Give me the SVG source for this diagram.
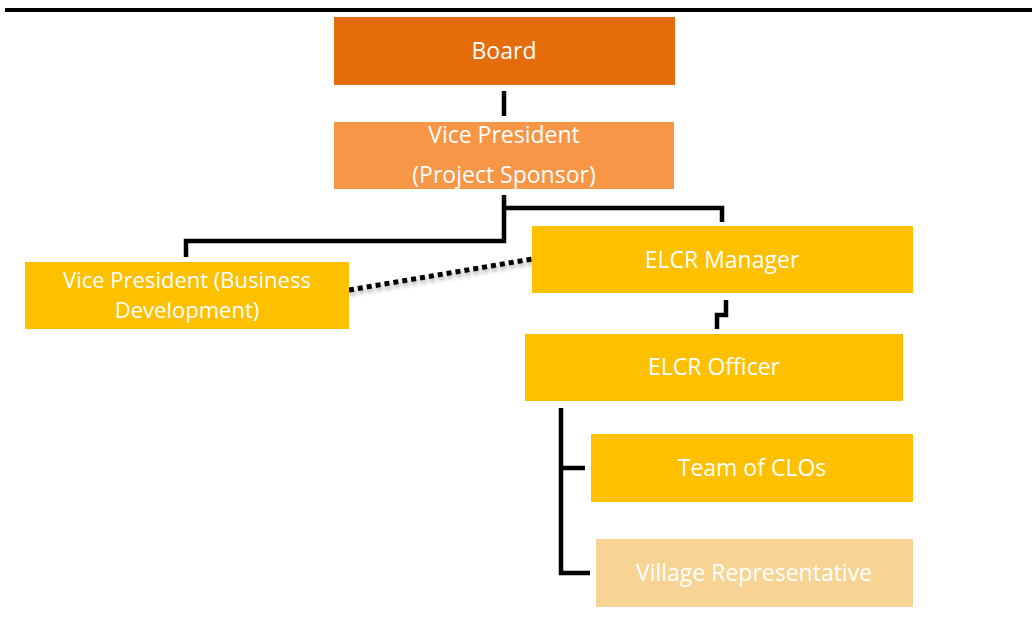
<svg xmlns="http://www.w3.org/2000/svg" width="1032" height="619" viewBox="0 0 1032 619">
  <style>
    .lbl { font-family: "Open Sans", "Noto Sans", sans-serif; font-size: 23px; fill: #ffffff; text-anchor: middle; }
    .lbl.sm { font-size: 22px; }
    .ln { fill: none; stroke: #000; stroke-width: 4.5; stroke-linejoin: miter; }
    .dot { fill: none; stroke: #000; stroke-width: 5; stroke-dasharray: 5 4; }
  </style>
  <defs>
    <filter id="shadow" x="-10%" y="-200%" width="120%" height="500%">
      <feDropShadow dx="1" dy="3" stdDeviation="2" flood-color="#000" flood-opacity="0.35"/>
    </filter>
  </defs>
  <rect width="1032" height="619" fill="#ffffff"/>
  <!-- top rule -->
  <rect x="5" y="8" width="1027" height="4" fill="#000"/>

  <g id="connectors">
    <line class="ln" x1="504" y1="91" x2="504" y2="116"/>
    <polyline class="ln" points="504,195 504,241 186,241 186,257"/>
    <polyline class="ln" points="504,208 722,208 722,222"/>
    <polyline class="ln" points="726,300 726,315 717,315 717,329"/>
    <polyline class="ln" points="561,408 561,573 590,573"/>
    <line class="ln" x1="561" y1="468" x2="585" y2="468"/>
    <line class="dot" x1="349" y1="290" x2="532" y2="259" filter="url(#shadow)"/>
  </g>

  <g id="board">
    <rect x="334" y="17" width="341" height="68" fill="#E46C0A"/>
    <text class="lbl" x="504" y="59">Board</text>
  </g>
  <g id="vp-sponsor">
    <rect x="334" y="122" width="340" height="67" fill="#F79646"/>
    <text class="lbl" x="504" y="143">Vice President</text>
    <text class="lbl" x="504" y="183">(Project Sponsor)</text>
  </g>
  <g id="vp-business">
    <rect x="25" y="262" width="324" height="67" fill="#FFC000"/>
    <text class="lbl sm" x="187" y="288">Vice President (Business</text>
    <text class="lbl sm" x="187" y="318">Development)</text>
  </g>
  <g id="elcr-manager">
    <rect x="532" y="226" width="381" height="67" fill="#FFC000"/>
    <text class="lbl" x="722" y="268">ELCR Manager</text>
  </g>
  <g id="elcr-officer">
    <rect x="525" y="334" width="378" height="67" fill="#FFC000"/>
    <text class="lbl" x="714" y="375">ELCR Officer</text>
  </g>
  <g id="team-clos">
    <rect x="591" y="434" width="322" height="68" fill="#FFC000"/>
    <text class="lbl" x="752" y="476">Team of CLOs</text>
  </g>
  <g id="village-rep">
    <rect x="596" y="539" width="317" height="68" fill="#F7D493"/>
    <text class="lbl" x="754" y="581">Village Representative</text>
  </g>
</svg>
